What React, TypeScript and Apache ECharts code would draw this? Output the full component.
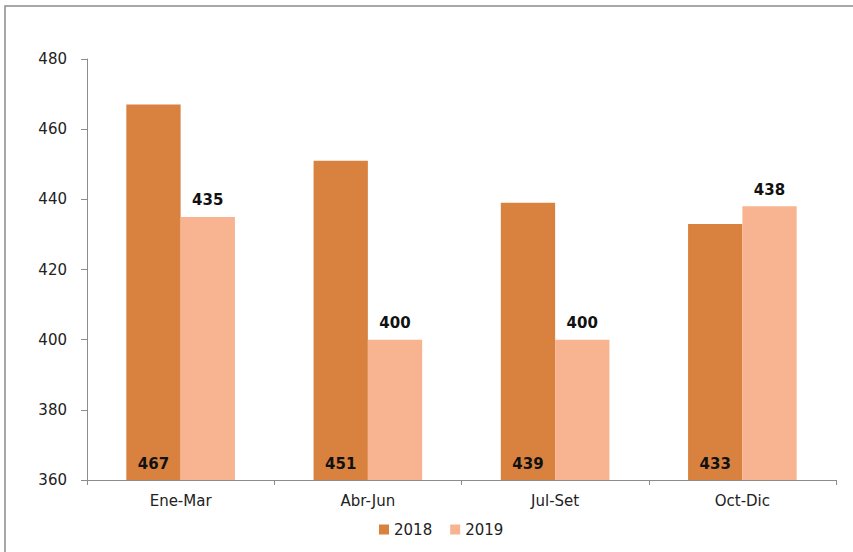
import React, { useEffect, useRef } from "react";
import * as echarts from "echarts";

const categories = ["Ene-Mar", "Abr-Jun", "Jul-Set", "Oct-Dic"];
const values2018 = [467, 451, 439, 433];
const values2019 = [435, 400, 400, 438];
const seriesNames = ["2018", "2019"];

export default function App() {
  const ref = useRef<HTMLDivElement>(null);
  useEffect(() => {
    const chart = echarts.init(ref.current!, null, { renderer: "svg" });
    const font = "DejaVu Sans";
    chart.setOption({
      animation: false,
      backgroundColor: "#ffffff",
      textStyle: { fontFamily: font },
      graphic: [
        {
          type: "rect",
          shape: { x: 5, y: 6, width: 900, height: 600 },
          style: { fill: "none", stroke: "#8c8c8c", lineWidth: 1.5 },
          silent: true,
        },
      ],
      grid: { left: 87, right: 17, top: 59, bottom: 72 },
      legend: {
        bottom: 10,
        left: 374,
        itemWidth: 10,
        itemHeight: 10,
        itemGap: 18,
        icon: "rect",
        textStyle: { fontSize: 15, color: "#222", fontFamily: font },
        data: seriesNames,
      },
      xAxis: {
        type: "category",
        data: categories,
        axisLine: { lineStyle: { color: "#8c8c8c", width: 1 } },
        axisTick: { show: true, length: 5, lineStyle: { color: "#8c8c8c" } },
        axisLabel: { fontSize: 15, color: "#222", margin: 13, fontFamily: font },
      },
      yAxis: {
        type: "value",
        min: 360,
        max: 480,
        interval: 20,
        splitLine: { show: false },
        axisLine: { show: true, lineStyle: { color: "#8c8c8c", width: 1 } },
        axisTick: { show: true, length: 6, lineStyle: { color: "#8c8c8c" } },
        axisLabel: { fontSize: 15, color: "#222", margin: 20, fontFamily: font },
      },
      series: [
        {
          name: seriesNames[0],
          type: "bar",
          data: values2018,
          barGap: "0%",
          barCategoryGap: "42%",
          itemStyle: { color: "#D9823F" },
          label: {
            show: true,
            position: "insideBottom",
            distance: 9,
            fontSize: 15,
            fontWeight: "bold",
            color: "#111",
            fontFamily: font,
          },
        },
        {
          name: seriesNames[1],
          type: "bar",
          data: values2019,
          barGap: "0%",
          barCategoryGap: "42%",
          itemStyle: { color: "#F8B490" },
          label: {
            show: true,
            position: "top",
            distance: 9,
            fontSize: 15,
            fontWeight: "bold",
            color: "#111",
            fontFamily: font,
          },
        },
      ],
    });
    return () => chart.dispose();
  }, []);
  return (
    <div
      ref={ref}
      style={{ position: "absolute", left: 0, top: 0, width: 853, height: 552 }}
    />
  );
}
